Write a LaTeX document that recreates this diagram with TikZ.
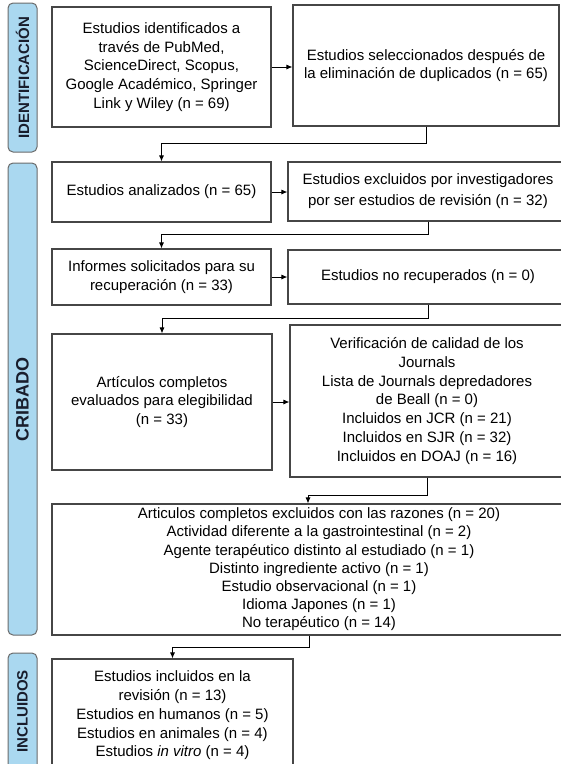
\documentclass[tikz,border=0pt]{standalone}
\usepackage{fontspec}
\setmainfont{Liberation Sans}
\usepackage{tikz}
\usetikzlibrary{positioning,calc,arrows.meta}
\definecolor{barblue}{RGB}{170,216,240}
\definecolor{boxline}{RGB}{70,70,70}
\definecolor{bartext}{RGB}{25,30,45}

\begin{document}
\begin{tikzpicture}[x=1pt, y=-1pt,
	box/.style={draw=boxline, line width=1.1pt, fill=white, inner sep=0pt, align=center, font=\fontsize{15}{18.8}\selectfont},
	phase/.style={draw=boxline!80, line width=1pt, fill=barblue, rounded corners=5pt, rotate=90, inner sep=0pt, minimum height=29pt, text=bartext, font=\bfseries\fontsize{15}{18}\selectfont},
	link/.style={-{Latex[length=6pt,width=5pt]}, line width=0.9pt}]
\useasboundingbox (0,0) rectangle (561,764);
\clip (0,0) rectangle (561,764);

\node[phase, minimum width=149pt] (ident) at (22.5,77.5) {IDENTIFICACIÓN};
\node[phase, minimum width=472pt, font=\bfseries\fontsize{18}{20}\selectfont] (crib) at (22.5,399) {CRIBADO};
\node[phase, minimum width=117pt] (incl) at (22.5,711.5) {INCLUIDOS};

\node[box, minimum width=219pt, minimum height=120pt] (found) at (161.5,67) {Estudios identificados a\\ través de PubMed,\\ ScienceDirect, Scopus,\\ Google Académico, Springer\\ Link y Wiley (n = 69)};
\node[box, minimum width=266pt, minimum height=121pt] (nodup) at (426,65.5) {Estudios seleccionados después de\\ la eliminación de duplicados (n = 65)};
\node[box, minimum width=219pt, minimum height=60pt] (screen) at (161.5,192) {Estudios analizados (n = 65)};
\node[box, minimum width=280pt, minimum height=59pt, font=\fontsize{15}{21}\selectfont] (review) at (428,191.5) {Estudios excluidos por investigadores\\ por ser estudios de revisión (n = 32)};
\node[box, minimum width=219pt, minimum height=56pt] (sought) at (161.5,277) {Informes solicitados para su\\ recuperación (n = 33)};
\node[box, minimum width=280pt, minimum height=54pt] (notret) at (428,277) {Estudios no recuperados (n = 0)};
\node[box, minimum width=220pt, minimum height=136pt] (elig) at (162,402) {Artículos completos\\ evaluados para elegibilidad\\ (n = 33)};
\node[box, minimum width=274pt, minimum height=152pt] (journ) at (427,401) {Verificación de calidad de los\\ Journals\\ Lista de Journals depredadores\\ de Beall (n = 0)\\ Incluidos en JCR (n = 21)\\ Incluidos en SJR (n = 32)\\ Incluidos en DOAJ (n = 16)};
\node[box, minimum width=534pt, minimum height=131pt, font=\fontsize{15}{18.2}\selectfont] (excl) at (319,569.5) {Articulos completos excluidos con las razones (n = 20)\\ Actividad diferente a la gastrointestinal (n = 2)\\ Agente terapéutico distinto al estudiado (n = 1)\\ Distinto ingrediente activo (n = 1)\\ Estudio observacional (n = 1)\\ Idioma Japones (n = 1)\\ No terapéutico (n = 14)};
\node[box, minimum width=241pt, minimum height=113pt] (incl-box) at (172.5,715.5) {Estudios incluidos en la\\ revisión (n = 13)\\ Estudios en humanos (n = 5)\\ Estudios en animales (n = 4)\\ Estudios \textit{in vitro} (n = 4)};

\draw[link] (found.east) -- (found.east -| nodup.west);
\draw[link] (screen.east) -- (screen.east -| review.west);
\draw[link] (sought.east) -- (sought.east -| notret.west);
\draw[link] (elig.east) -- (elig.east -| journ.west);

\draw[link] (nodup.south) -- ++(0,17) -| (screen.north);
\draw[link] (review.south) -- ++(0,13) -| (sought.north);
\draw[link] (notret.south) -- ++(0,14) -| (elig.north);
\draw[link] (journ.south) -- ++(0,18) -| ([xshift=-11pt]excl.north);
\draw[link] ([xshift=-10pt]excl.south) -- ++(0,12) -| (incl-box.north);
\end{tikzpicture}
\end{document}
